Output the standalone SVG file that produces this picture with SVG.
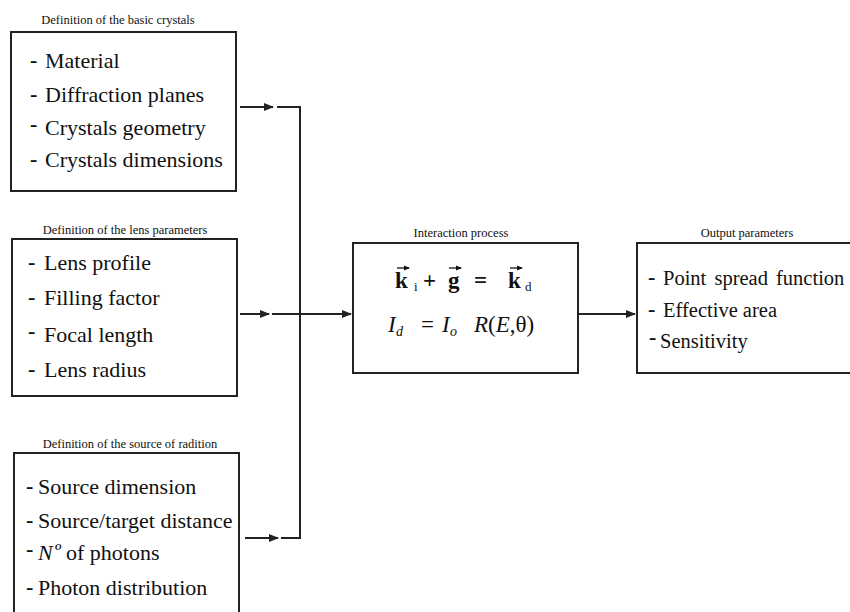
<svg xmlns="http://www.w3.org/2000/svg" width="850" height="612" viewBox="0 0 850 612">
<style>
.box{fill:#fff;stroke:#222;stroke-width:2}
.ttl{font-size:12.5px;fill:#111;text-anchor:middle}
.it{font-size:22px;fill:#111}
.ot{font-size:20.5px;fill:#111}
.d{font-size:22px;font-weight:bold;fill:#111}
.ln{fill:none;stroke:#222;stroke-width:2}
.eq{font-size:23px;fill:#111}
.acc{fill:none;stroke:#111;stroke-width:1.3}
</style>
<defs>
<marker id="ah" markerWidth="10" markerHeight="8" refX="9" refY="4" orient="auto" markerUnits="userSpaceOnUse">
<path d="M0,0 L10,4 L0,8 Z" fill="#222"/>
</marker>
<marker id="va" markerWidth="6" markerHeight="6" refX="5" refY="3" orient="auto" markerUnits="userSpaceOnUse">
<path d="M0,0.5 L6,3 L0,5.5 Z" fill="#111"/>
</marker>
</defs>
<rect width="850" height="612" fill="#fff"/>

<g id="crystals">
<text class="ttl" font-family="Liberation Serif" x="118" y="24">Definition of the basic crystals</text>
<rect class="box" x="11" y="32" width="225" height="159"/>
<text class="d" font-family="Liberation Serif" x="30" y="67">-</text>
<text class="it" font-family="Liberation Serif" x="45" y="68">Material</text>
<text class="d" font-family="Liberation Serif" x="30" y="101">-</text>
<text class="it" font-family="Liberation Serif" x="45" y="102">Diffraction planes</text>
<text class="d" font-family="Liberation Serif" x="30" y="131">-</text>
<text class="it" font-family="Liberation Serif" x="45" y="135">Crystals geometry</text>
<text class="d" font-family="Liberation Serif" x="30" y="166">-</text>
<text class="it" font-family="Liberation Serif" x="45" y="167">Crystals dimensions</text>
</g>

<g id="lens">
<text class="ttl" font-family="Liberation Serif" x="125" y="234">Definition of the lens parameters</text>
<rect class="box" x="12" y="239" width="225" height="157"/>
<text class="d" font-family="Liberation Serif" x="28" y="269">-</text>
<text class="it" font-family="Liberation Serif" x="44" y="270">Lens profile</text>
<text class="d" font-family="Liberation Serif" x="28" y="304">-</text>
<text class="it" font-family="Liberation Serif" x="44" y="305">Filling factor</text>
<text class="d" font-family="Liberation Serif" x="28" y="338">-</text>
<text class="it" font-family="Liberation Serif" x="44" y="342">Focal length</text>
<text class="d" font-family="Liberation Serif" x="28" y="376">-</text>
<text class="it" font-family="Liberation Serif" x="44" y="377">Lens radius</text>
</g>

<g id="source">
<text class="ttl" font-family="Liberation Serif" x="130" y="448">Definition of the source of radition</text>
<rect class="box" x="14" y="453" width="225" height="170"/>
<text class="d" font-family="Liberation Serif" x="26" y="493">-</text>
<text class="it" font-family="Liberation Serif" x="38" y="494">Source dimension</text>
<text class="d" font-family="Liberation Serif" x="26" y="527">-</text>
<text class="it" font-family="Liberation Serif" x="38" y="528">Source/target distance</text>
<text class="d" font-family="Liberation Serif" x="26" y="556">-</text>
<text class="it" font-family="Liberation Serif" x="38" y="560" font-style="italic">N</text>
<text class="it" font-family="Liberation Serif" x="54" y="558" font-style="italic">º</text>
<text class="it" font-family="Liberation Serif" x="66" y="560">of photons</text>
<text class="d" font-family="Liberation Serif" x="26" y="594">-</text>
<text class="it" font-family="Liberation Serif" x="38" y="595">Photon distribution</text>
</g>

<g id="interaction">
<text class="ttl" font-family="Liberation Serif" x="461" y="237">Interaction process</text>
<rect class="box" x="353" y="243" width="225" height="130"/>
<text class="eq" font-family="Liberation Serif" y="288" font-weight="bold"><tspan x="395">k</tspan><tspan x="414" font-size="13" font-weight="normal" dy="3">i</tspan><tspan x="423" dy="-3">+</tspan><tspan x="448">g</tspan><tspan x="474">=</tspan><tspan x="508">k</tspan><tspan x="525" font-size="13" font-weight="normal" dy="3">d</tspan></text>
<path class="acc" d="M397,268 L409,268" marker-end="url(#va)"/>
<path class="acc" d="M449,268 L461,268" marker-end="url(#va)"/>
<path class="acc" d="M510,268 L522,268" marker-end="url(#va)"/>
<text class="eq" font-family="Liberation Serif" y="332" font-size="24"><tspan x="388" font-style="italic">I</tspan><tspan x="396" dy="4" font-size="14" font-style="italic">d</tspan><tspan x="421" dy="-4">=</tspan><tspan x="442" font-style="italic">I</tspan><tspan x="450" dy="4" font-size="14" font-style="italic">o</tspan><tspan x="474" dy="-4" font-style="italic">R</tspan><tspan>(</tspan><tspan font-style="italic">E</tspan><tspan>,θ)</tspan></text>
</g>

<g id="output">
<text class="ttl" font-family="Liberation Serif" x="747" y="237">Output parameters</text>
<rect class="box" x="637" y="243" width="225" height="130"/>
<text class="d" font-family="Liberation Serif" x="648" y="284" font-size="20">-</text>
<text class="ot" font-family="Liberation Serif" x="663" y="285" word-spacing="3">Point spread function</text>
<text class="d" font-family="Liberation Serif" x="648" y="316" font-size="20">-</text>
<text class="ot" font-family="Liberation Serif" x="663" y="317">Effective area</text>
<text class="d" font-family="Liberation Serif" x="649" y="344" font-size="20">-</text>
<text class="ot" font-family="Liberation Serif" x="660" y="348">Sensitivity</text>
</g>

<g id="connectors">
<path class="ln" d="M240,107 L273,107" marker-end="url(#ah)"/>
<path class="ln" d="M277,107 L300,107 L300,538 L281,538"/>
<path class="ln" d="M245,538 L278,538" marker-end="url(#ah)"/>
<path class="ln" d="M240,314 L269,314" marker-end="url(#ah)"/>
<path class="ln" d="M272,314 L351,314" marker-end="url(#ah)"/>
<path class="ln" d="M578,314 L635,314" marker-end="url(#ah)"/>
</g>
</svg>
